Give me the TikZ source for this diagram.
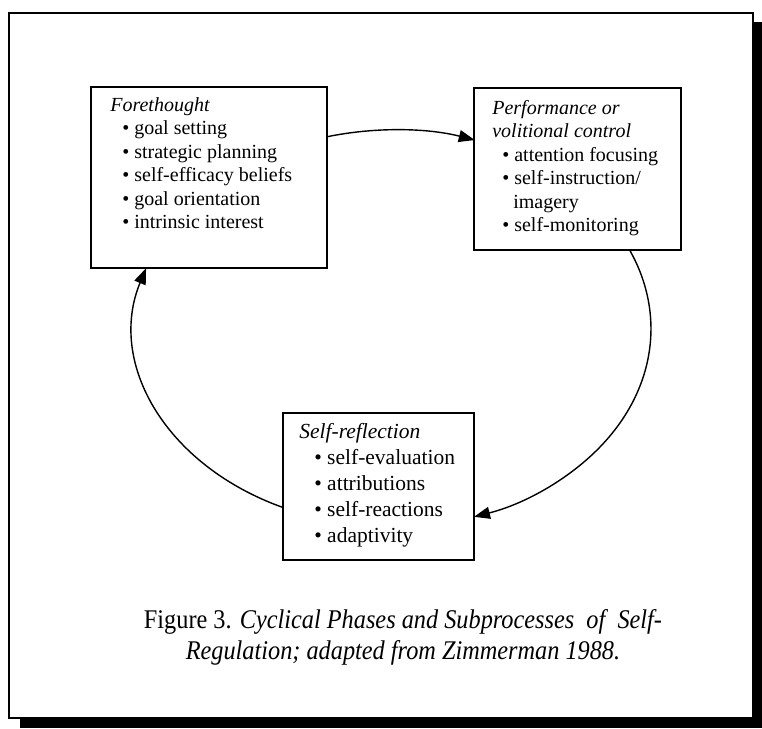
\documentclass[tikz,border=0pt]{standalone}
\usepackage{fontspec}
\setmainfont{Liberation Serif}
\newfontfamily\capfont[FakeStretch=0.9]{Liberation Serif}
\usetikzlibrary{arrows.meta}
\tikzset{
  phasebox/.style={draw=black, line width=1.7pt, fill=white, inner sep=0pt},
  boxtext/.style={anchor=north west, align=left, inner sep=0pt},
  arr/.style={line width=1.4pt, -{Triangle[length=16pt,width=12pt]}},
}
\begin{document}
\begin{tikzpicture}[x=1pt,y=1pt]
\useasboundingbox (0,0) rectangle (762,728);
% frame with shadow
\fill[black] (20,0) rectangle (762,706);
\draw[line width=2.2pt, fill=white] (9,10) rectangle (753,715);

% boxes
\node[phasebox, minimum width=236pt, minimum height=181pt] (fore) at (209,550.5) {};
\node[phasebox, minimum width=207pt, minimum height=162pt] (perf) at (577.5,559) {};
\node[phasebox, minimum width=191pt, minimum height=147pt] (self) at (378.5,241.5) {};

\node[boxtext, font=\fontsize{20pt}{23.5pt}\selectfont] (foretxt) at ([xshift=20pt,yshift=-11pt]fore.north west)
 {\textit{Forethought}\\
  \hspace*{12pt}• goal setting\\
  \hspace*{12pt}• strategic planning\\
  \hspace*{12pt}• self-efficacy beliefs\\
  \hspace*{12pt}• goal orientation\\
  \hspace*{12pt}• intrinsic interest};

\node[boxtext, font=\fontsize{20pt}{23.4pt}\selectfont] (perftxt) at ([xshift=19pt,yshift=-13pt]perf.north west)
 {\textit{Performance or}\\
  \textit{volitional control}\\
  \hspace*{10pt}• attention focusing\\
  \hspace*{10pt}• self-instruction/\\
  \hspace*{21pt}imagery\\
  \hspace*{10pt}• self-monitoring};

\node[boxtext, font=\fontsize{21.5pt}{26pt}\selectfont] (selftxt) at ([xshift=17pt,yshift=-11pt]self.north west)
 {\textit{Self-reflection}\\
  \hspace*{15pt}• self-evaluation\\
  \hspace*{15pt}• attributions\\
  \hspace*{15pt}• self-reactions\\
  \hspace*{15pt}• adaptivity};

% caption
\node[align=center, inner sep=0pt, font=\capfont\fontsize{27pt}{31pt}\selectfont] (cap) at (403,90.5)
 {Figure 3. \textit{Cyclical Phases and Subprocesses\ \ of\ \ Self-}\\
  \textit{Regulation; adapted from Zimmerman 1988.}};

% cycle arrows (arcs of one ellipse)
\coordinate (a1s) at ([yshift=40.9pt]fore.east);
\coordinate (a2s) at ([xshift=52.6pt]perf.south);
\coordinate (a3s) at ([yshift=-20.7pt]self.west);
\draw[arr] (a1s) arc[start angle=104.8, end angle=71.7, x radius=258pt, y radius=198pt];
\draw[arr] (a2s) arc[start angle=23.2, end angle=-71.7, x radius=258pt, y radius=198pt];
\draw[arr] (a3s) arc[start angle=-115.2, end angle=-197.6, x radius=258pt, y radius=198pt];
\end{tikzpicture}
\end{document}
